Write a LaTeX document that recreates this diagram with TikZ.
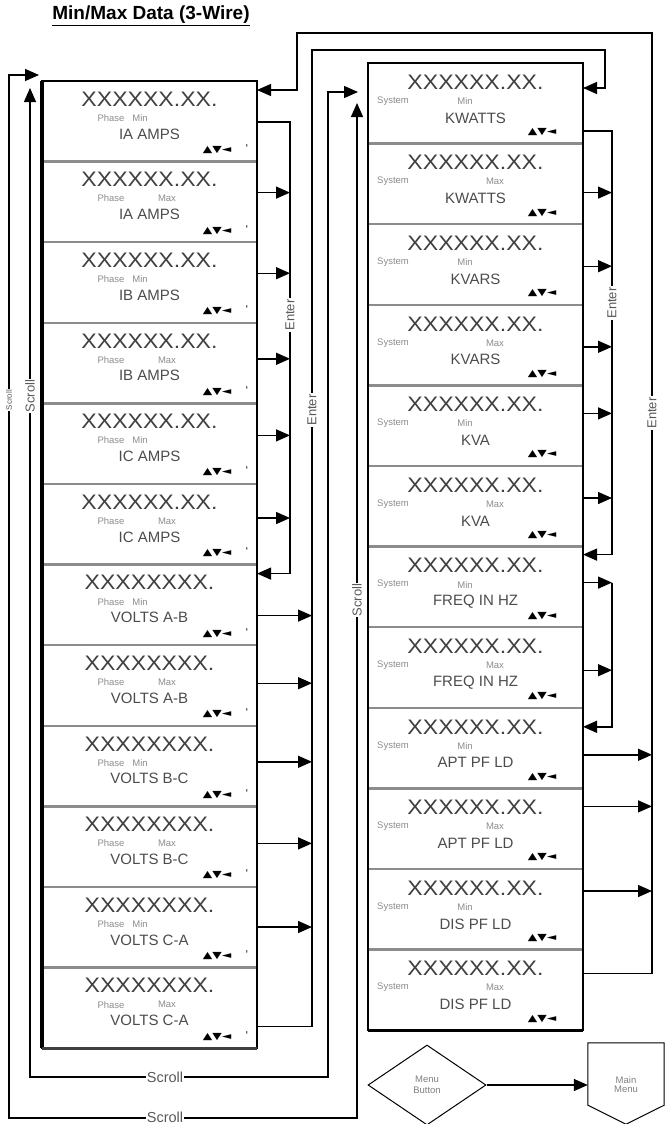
\documentclass[tikz,border=0pt]{standalone}
\usepackage{fontspec}
\setmainfont{Liberation Sans}
\newfontfamily\symfont{DejaVu Sans}
\usetikzlibrary{arrows.meta,positioning,shapes.geometric}

\tikzset{
  cell/.style={minimum width=215pt, minimum height=80.6pt, inner sep=0pt, outer sep=0pt},
  frame/.style={line width=1.6pt},
  divider/.style={draw=black!45, line width=2.4pt},
  readout/.style={font=\fontsize{21}{21}\selectfont, text=black!75, inner sep=0pt},
  tag/.style={font=\fontsize{9.5}{9.5}\selectfont, text=black!45, inner sep=0pt},
  quantity/.style={font=\fontsize{15}{15}\selectfont, text=black!70, inner sep=0pt},
  keys/.style={font=\symfont\fontsize{9.5}{9.5}\selectfont, inner sep=0pt},
  wire/.style={line width=1.4pt},
  flow/.style={wire, -{Triangle[length=14pt,width=12pt]}},
  twoway/.style={wire, {Triangle[length=14pt,width=12pt]}-{Triangle[length=14pt,width=12pt]}},
  lbl/.style={font=\fontsize{13}{13}\selectfont, text=black!65, fill=white, inner sep=1pt},
}

\begin{document}
\begin{tikzpicture}[x=1pt, y=-1pt]
\useasboundingbox (0,0) rectangle (665,1124);

% title
\node[font=\bfseries\fontsize{19}{19}\selectfont] (title) at (151,16) {\underline{Min/Max Data (3-Wire)}};

% the two columns of display screens
\node[cell, anchor=north west] (L1) at (42,81) {};
\node[cell, anchor=north west] (R1) at (368,63) {};
\foreach \i [remember=\i as \j (initially 1)] in {2,...,12} {
  \node[cell, below=0pt of L\j] (L\i) {};
  \node[cell, below=0pt of R\j] (R\i) {};
}

\foreach \i/\val/\mm/\mx/\name in {
    1/XXXXXX.XX./Min/98/IA AMPS, 2/XXXXXX.XX./Max/125/IA AMPS,
    3/XXXXXX.XX./Min/98/IB AMPS, 4/XXXXXX.XX./Max/125/IB AMPS,
    5/XXXXXX.XX./Min/98/IC AMPS, 6/XXXXXX.XX./Max/125/IC AMPS,
    7/XXXXXXXX./Min/98/VOLTS A-B, 8/XXXXXXXX./Max/125/VOLTS A-B,
    9/XXXXXXXX./Min/98/VOLTS B-C, 10/XXXXXXXX./Max/125/VOLTS B-C,
    11/XXXXXXXX./Min/98/VOLTS C-A, 12/XXXXXXXX./Max/125/VOLTS C-A} {
  \node[readout] (Lv\i) at ([yshift=-18pt]L\i.north) {\scalebox{1.1}[1]{\val}};
  \node[tag] (Lp\i) at ([xshift=69pt,yshift=-37pt]L\i.north west) {Phase};
  \node[tag] (Lt\i) at ([xshift=\mx pt,yshift=-37pt]L\i.north west) {\mm};
  \node[quantity] (Lq\i) at ([yshift=-53pt]L\i.north) {\name};
  \node[keys] (Lk\i) at ([xshift=175pt,yshift=-69pt]L\i.north west) {\scalebox{1.3}[1]{▲▼◄}};
  \node[keys] (Ld\i) at ([xshift=205pt,yshift=-67pt]L\i.north west) {'};
}

\foreach \i/\mm/\mx/\name in {
    1/Min/97/KWATTS, 2/Max/127/KWATTS, 3/Min/97/KVARS, 4/Max/127/KVARS,
    5/Min/97/KVA, 6/Max/127/KVA, 7/Min/97/FREQ IN HZ, 8/Max/127/FREQ IN HZ,
    9/Min/97/APT PF LD, 10/Max/127/APT PF LD, 11/Min/97/DIS PF LD, 12/Max/127/DIS PF LD} {
  \node[readout] (Rv\i) at ([yshift=-19pt]R\i.north) {\scalebox{1.1}[1]{XXXXXX.XX.}};
  \node[tag] (Rp\i) at ([xshift=25pt,yshift=-38pt]R\i.north west) {System};
  \node[tag] (Rt\i) at ([xshift=\mx pt,yshift=-38pt]R\i.north west) {\mm};
  \node[quantity] (Rq\i) at ([yshift=-55pt]R\i.north) {\name};
  \node[keys] (Rk\i) at ([xshift=174pt,yshift=-69pt]R\i.north west) {\scalebox{1.3}[1]{▲▼◄}};
}

% dividers and frames
\foreach \i in {1,...,11} {
  \draw[divider] (L\i.south west) -- (L\i.south east);
  \draw[divider] (R\i.south west) -- (R\i.south east);
}
\draw[frame] (L1.north west) rectangle (L12.south east);
\draw[frame] (R1.north west) rectangle (R12.south east);
\draw[line width=3.5pt] (L1.north west) -- (L12.south west);
\draw[line width=3pt, black!75] (L12.south west) -- (L12.south east);
\draw[line width=3pt] (R12.south west) -- (R12.south east);

% enter buses
\coordinate (busA) at (290,0);
\coordinate (busB) at (312,0);
\coordinate (busC) at (612,0);
\coordinate (busD) at (652,0);

% phase currents
\coordinate (L1out) at ([yshift=-41pt]L1.north east);
\coordinate (L7in) at ([yshift=-9pt]L7.north east);
\draw[flow] (L1out) -| (busA |- L7in) -- (L7in);
\foreach \i/\dy in {2/31,3/31,4/36,5/32,6/34}
  \draw[flow] ([yshift=-\dy pt]L\i.north east) coordinate (La\i) -- (La\i -| busA);
\node[lbl, rotate=90] (enterA) at (290,315) {Enter};

% phase volts
\coordinate (L12out) at ([yshift=-59pt]L12.north east);
\coordinate (R1in) at ([yshift=-25pt]R1.north east);
\coordinate (topB) at (312,50);
\coordinate (topB2) at (605,50);
\draw[flow] (L12out) -| (topB) -- (topB2) |- (R1in);
\foreach \i/\dy in {7/51,8/38,9/36,10/37,11/40}
  \draw[flow] ([yshift=-\dy pt]L\i.north east) coordinate (Lb\i) -- (Lb\i -| busB);
\node[lbl, rotate=90] (enterB) at (312,410) {Enter};

% system power
\coordinate (R1out) at ([yshift=-68pt]R1.north east);
\coordinate (R7in) at ([yshift=-8pt]R7.north east);
\draw[flow] (R1out) -| (busC |- R7in) -- (R7in);
\foreach \i/\dy in {2/49,3/42,4/42,5/28,6/32}
  \draw[flow] ([yshift=-\dy pt]R\i.north east) coordinate (Rc\i) -- (Rc\i -| busC);
\node[lbl, rotate=90] (enterC) at (612,303) {Enter};

% frequency
\coordinate (R9in) at ([yshift=-19pt]R9.north east);
\foreach \i/\dy in {7/36,8/43}
  \draw[flow] ([yshift=-\dy pt]R\i.north east) coordinate (Rc\i) -- (Rc\i -| busC);
\draw[flow] (Rc7 -| busC) |- (R9in);

% power factor
\coordinate (R12out) at ([yshift=-24pt]R12.north east);
\coordinate (L1in) at ([yshift=-9pt]L1.north east);
\coordinate (topD) at (652,33);
\coordinate (topD2) at (297,33);
\draw[flow] (R12out) -| (topD) -- (topD2) |- (L1in);
\foreach \i/\dy in {9/47,10/18,11/22}
  \draw[flow] ([yshift=-\dy pt]R\i.north east) coordinate (Rd\i) -- (Rd\i -| busD);
\node[lbl, rotate=90] (enterD) at (652,413) {Enter};

% scroll loops
\coordinate (LsA) at (30,88);
\coordinate (RsA) at (358,92);
\coordinate (botA) at (328,1077);
\draw[twoway] (LsA) |- (botA) |- (RsA);
\coordinate (LsB) at (39,75);
\coordinate (RsB) at (357,103);
\coordinate (botB) at (9,1118);
\draw[twoway] (LsB) -| (botB) -| (RsB);
\node[lbl, font=\fontsize{14.5}{14.5}\selectfont] (scrollA) at (165,1077) {Scroll};
\node[lbl, font=\fontsize{14.5}{14.5}\selectfont] (scrollB) at (165,1117) {Scroll};
\node[lbl, rotate=90] (scrollL) at (30,396) {Scroll};
\node[lbl, rotate=90, font=\fontsize{8}{8}\selectfont] (scrollL2) at (9,400) {Scroll};
\node[lbl, rotate=90] (scrollR) at (357,600) {Scroll};

% menu
\node[draw, diamond, aspect=1.48, minimum width=118pt, minimum height=80pt, inner sep=0pt,
  line width=1pt, align=center, font=\fontsize{9.5}{11}\selectfont, text=black!50] (menu) at (427,1085) {Menu\\Button};
\node[minimum width=76pt, minimum height=84pt, inner sep=0pt, align=center,
  font=\fontsize{9.5}{11}\selectfont, text=black!50] (mainmenu) at (626,1085) {Main\\[-2pt]Menu};
\draw[line width=1pt] (mainmenu.north west) -- (mainmenu.north east) -- ([yshift=22pt]mainmenu.south east)
  -- ([yshift=3pt]mainmenu.south) -- ([yshift=22pt]mainmenu.south west) -- cycle;
\draw[flow] (menu.east) -- (mainmenu.west);
\end{tikzpicture}
\end{document}
